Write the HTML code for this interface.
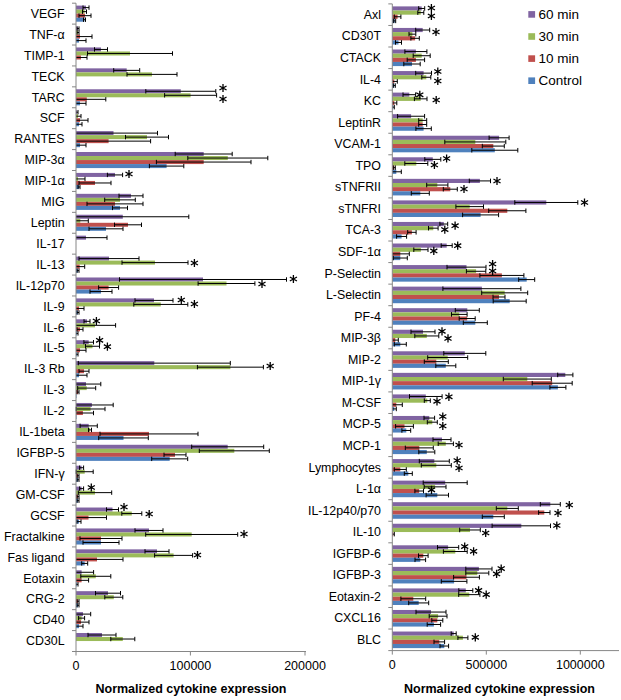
<!DOCTYPE html>
<html><head><meta charset="utf-8"><style>
html,body{margin:0;padding:0;background:#fff;}
body{width:621px;height:700px;overflow:hidden;}
svg{display:block;}
text{font-family:"Liberation Sans",sans-serif;fill:#000;}
.lab{font-size:12.4px;}
.tick{font-size:12.5px;}
.leg{font-size:13.5px;}
.title{font-size:12.5px;font-weight:bold;}
.star{stroke:#000;stroke-width:1.3;fill:none;}
.ax{stroke:#868686;stroke-width:1;fill:none;}
.eb path{stroke:#000;stroke-width:1;fill:none;}
</style></head><body>
<svg width="621" height="700" viewBox="0 0 621 700">
<rect width="621" height="700" fill="#fff"/>
<rect x="76.00" y="5.61" width="10.00" height="4.02" fill="#8064A2"/><rect x="76.00" y="9.63" width="8.50" height="4.02" fill="#9BBB59"/><rect x="76.00" y="13.66" width="9.00" height="4.02" fill="#C0504D"/><rect x="76.00" y="17.68" width="8.50" height="4.02" fill="#4F81BD"/><rect x="76.00" y="26.53" width="2.00" height="4.02" fill="#8064A2"/><rect x="76.00" y="30.55" width="2.00" height="4.02" fill="#9BBB59"/><rect x="76.00" y="34.57" width="4.00" height="4.02" fill="#C0504D"/><rect x="76.00" y="38.59" width="3.00" height="4.02" fill="#4F81BD"/><rect x="76.00" y="47.44" width="25.00" height="4.02" fill="#8064A2"/><rect x="76.00" y="51.46" width="54.00" height="4.02" fill="#9BBB59"/><rect x="76.00" y="55.48" width="5.00" height="4.02" fill="#C0504D"/><rect x="76.00" y="68.35" width="50.70" height="4.02" fill="#8064A2"/><rect x="76.00" y="72.37" width="76.00" height="4.02" fill="#9BBB59"/><rect x="76.00" y="89.26" width="104.80" height="4.02" fill="#8064A2"/><rect x="76.00" y="93.29" width="114.60" height="4.02" fill="#9BBB59"/><rect x="76.00" y="97.31" width="10.80" height="4.02" fill="#C0504D"/><rect x="76.00" y="101.33" width="4.00" height="4.02" fill="#4F81BD"/><rect x="76.00" y="110.18" width="1.00" height="4.02" fill="#8064A2"/><rect x="76.00" y="114.20" width="2.00" height="4.02" fill="#9BBB59"/><rect x="76.00" y="118.22" width="4.00" height="4.02" fill="#C0504D"/><rect x="76.00" y="122.24" width="3.00" height="4.02" fill="#4F81BD"/><rect x="76.00" y="131.09" width="37.50" height="4.02" fill="#8064A2"/><rect x="76.00" y="135.11" width="71.00" height="4.02" fill="#9BBB59"/><rect x="76.00" y="139.13" width="32.60" height="4.02" fill="#C0504D"/><rect x="76.00" y="143.16" width="4.00" height="4.02" fill="#4F81BD"/><rect x="76.00" y="152.00" width="127.70" height="4.02" fill="#8064A2"/><rect x="76.00" y="156.03" width="151.80" height="4.02" fill="#9BBB59"/><rect x="76.00" y="160.05" width="127.70" height="4.02" fill="#C0504D"/><rect x="76.00" y="164.07" width="90.60" height="4.02" fill="#4F81BD"/><rect x="76.00" y="172.92" width="39.00" height="4.02" fill="#8064A2"/><rect x="76.00" y="176.94" width="2.00" height="4.02" fill="#9BBB59"/><rect x="76.00" y="180.96" width="19.00" height="4.02" fill="#C0504D"/><rect x="76.00" y="184.98" width="3.00" height="4.02" fill="#4F81BD"/><rect x="76.00" y="193.83" width="55.00" height="4.02" fill="#8064A2"/><rect x="76.00" y="197.85" width="44.00" height="4.02" fill="#9BBB59"/><rect x="76.00" y="201.87" width="39.00" height="4.02" fill="#C0504D"/><rect x="76.00" y="205.89" width="44.00" height="4.02" fill="#4F81BD"/><rect x="76.00" y="214.74" width="46.80" height="4.02" fill="#8064A2"/><rect x="76.00" y="218.76" width="4.30" height="4.02" fill="#9BBB59"/><rect x="76.00" y="222.79" width="52.00" height="4.02" fill="#C0504D"/><rect x="76.00" y="226.81" width="30.00" height="4.02" fill="#4F81BD"/><rect x="76.00" y="235.65" width="10.00" height="4.02" fill="#8064A2"/><rect x="76.00" y="256.57" width="33.00" height="4.02" fill="#8064A2"/><rect x="76.00" y="260.59" width="79.00" height="4.02" fill="#9BBB59"/><rect x="76.00" y="264.61" width="3.70" height="4.02" fill="#C0504D"/><rect x="76.00" y="268.63" width="2.00" height="4.02" fill="#4F81BD"/><rect x="76.00" y="277.48" width="127.00" height="4.02" fill="#8064A2"/><rect x="76.00" y="281.50" width="150.50" height="4.02" fill="#9BBB59"/><rect x="76.00" y="285.52" width="32.60" height="4.02" fill="#C0504D"/><rect x="76.00" y="289.55" width="25.00" height="4.02" fill="#4F81BD"/><rect x="76.00" y="298.39" width="78.00" height="4.02" fill="#8064A2"/><rect x="76.00" y="302.42" width="84.80" height="4.02" fill="#9BBB59"/><rect x="76.00" y="306.44" width="3.00" height="4.02" fill="#C0504D"/><rect x="76.00" y="310.46" width="2.00" height="4.02" fill="#4F81BD"/><rect x="76.00" y="319.31" width="11.00" height="4.02" fill="#8064A2"/><rect x="76.00" y="323.33" width="19.00" height="4.02" fill="#9BBB59"/><rect x="76.00" y="327.35" width="4.00" height="4.02" fill="#C0504D"/><rect x="76.00" y="331.37" width="1.00" height="4.02" fill="#4F81BD"/><rect x="76.00" y="340.22" width="12.70" height="4.02" fill="#8064A2"/><rect x="76.00" y="344.24" width="16.50" height="4.02" fill="#9BBB59"/><rect x="76.00" y="348.26" width="4.00" height="4.02" fill="#C0504D"/><rect x="76.00" y="352.28" width="1.00" height="4.02" fill="#4F81BD"/><rect x="76.00" y="361.13" width="78.30" height="4.02" fill="#8064A2"/><rect x="76.00" y="365.15" width="154.40" height="4.02" fill="#9BBB59"/><rect x="76.00" y="369.18" width="8.00" height="4.02" fill="#C0504D"/><rect x="76.00" y="373.20" width="3.00" height="4.02" fill="#4F81BD"/><rect x="76.00" y="382.05" width="10.00" height="4.02" fill="#8064A2"/><rect x="76.00" y="386.07" width="10.70" height="4.02" fill="#9BBB59"/><rect x="76.00" y="390.09" width="2.00" height="4.02" fill="#C0504D"/><rect x="76.00" y="394.11" width="0.50" height="4.02" fill="#4F81BD"/><rect x="76.00" y="402.96" width="15.90" height="4.02" fill="#8064A2"/><rect x="76.00" y="406.98" width="14.60" height="4.02" fill="#9BBB59"/><rect x="76.00" y="411.00" width="6.90" height="4.02" fill="#C0504D"/><rect x="76.00" y="415.02" width="0.50" height="4.02" fill="#4F81BD"/><rect x="76.00" y="423.87" width="12.70" height="4.02" fill="#8064A2"/><rect x="76.00" y="427.89" width="14.00" height="4.02" fill="#9BBB59"/><rect x="76.00" y="431.91" width="73.00" height="4.02" fill="#C0504D"/><rect x="76.00" y="435.94" width="47.50" height="4.02" fill="#4F81BD"/><rect x="76.00" y="444.78" width="151.70" height="4.02" fill="#8064A2"/><rect x="76.00" y="448.81" width="158.30" height="4.02" fill="#9BBB59"/><rect x="76.00" y="452.83" width="99.00" height="4.02" fill="#C0504D"/><rect x="76.00" y="456.85" width="93.70" height="4.02" fill="#4F81BD"/><rect x="76.00" y="465.70" width="5.60" height="4.02" fill="#8064A2"/><rect x="76.00" y="469.72" width="8.70" height="4.02" fill="#9BBB59"/><rect x="76.00" y="473.74" width="2.00" height="4.02" fill="#C0504D"/><rect x="76.00" y="477.76" width="2.00" height="4.02" fill="#4F81BD"/><rect x="76.00" y="486.61" width="5.60" height="4.02" fill="#8064A2"/><rect x="76.00" y="490.63" width="19.00" height="4.02" fill="#9BBB59"/><rect x="76.00" y="494.65" width="2.00" height="4.02" fill="#C0504D"/><rect x="76.00" y="498.67" width="2.00" height="4.02" fill="#4F81BD"/><rect x="76.00" y="507.52" width="36.50" height="4.02" fill="#8064A2"/><rect x="76.00" y="511.54" width="55.80" height="4.02" fill="#9BBB59"/><rect x="76.00" y="515.57" width="12.50" height="4.02" fill="#C0504D"/><rect x="76.00" y="519.59" width="3.00" height="4.02" fill="#4F81BD"/><rect x="76.00" y="528.44" width="73.00" height="4.02" fill="#8064A2"/><rect x="76.00" y="532.46" width="115.70" height="4.02" fill="#9BBB59"/><rect x="76.00" y="536.48" width="25.00" height="4.02" fill="#C0504D"/><rect x="76.00" y="540.50" width="25.00" height="4.02" fill="#4F81BD"/><rect x="76.00" y="549.35" width="81.00" height="4.02" fill="#8064A2"/><rect x="76.00" y="553.37" width="97.60" height="4.02" fill="#9BBB59"/><rect x="76.00" y="557.39" width="21.00" height="4.02" fill="#C0504D"/><rect x="76.00" y="561.41" width="8.70" height="4.02" fill="#4F81BD"/><rect x="76.00" y="570.26" width="5.60" height="4.02" fill="#8064A2"/><rect x="76.00" y="574.28" width="19.80" height="4.02" fill="#9BBB59"/><rect x="76.00" y="578.30" width="5.60" height="4.02" fill="#C0504D"/><rect x="76.00" y="582.33" width="1.00" height="4.02" fill="#4F81BD"/><rect x="76.00" y="591.17" width="32.00" height="4.02" fill="#8064A2"/><rect x="76.00" y="595.20" width="37.80" height="4.02" fill="#9BBB59"/><rect x="76.00" y="599.22" width="2.00" height="4.02" fill="#C0504D"/><rect x="76.00" y="603.24" width="2.00" height="4.02" fill="#4F81BD"/><rect x="76.00" y="612.09" width="7.00" height="4.02" fill="#8064A2"/><rect x="76.00" y="616.11" width="5.60" height="4.02" fill="#9BBB59"/><rect x="76.00" y="620.13" width="5.00" height="4.02" fill="#C0504D"/><rect x="76.00" y="624.15" width="3.00" height="4.02" fill="#4F81BD"/><rect x="76.00" y="633.00" width="26.00" height="4.02" fill="#8064A2"/><rect x="76.00" y="637.02" width="46.80" height="4.02" fill="#9BBB59"/><rect x="392.30" y="6.39" width="29.40" height="4.15" fill="#8064A2"/><rect x="392.30" y="10.53" width="28.50" height="4.15" fill="#9BBB59"/><rect x="392.30" y="14.68" width="5.30" height="4.15" fill="#C0504D"/><rect x="392.30" y="18.82" width="2.40" height="4.15" fill="#4F81BD"/><rect x="392.30" y="27.94" width="30.40" height="4.15" fill="#8064A2"/><rect x="392.30" y="32.09" width="20.10" height="4.15" fill="#9BBB59"/><rect x="392.30" y="36.23" width="22.80" height="4.15" fill="#C0504D"/><rect x="392.30" y="40.38" width="6.20" height="4.15" fill="#4F81BD"/><rect x="392.30" y="49.50" width="23.60" height="4.15" fill="#8064A2"/><rect x="392.30" y="53.65" width="29.40" height="4.15" fill="#9BBB59"/><rect x="392.30" y="57.79" width="23.60" height="4.15" fill="#C0504D"/><rect x="392.30" y="61.94" width="19.70" height="4.15" fill="#4F81BD"/><rect x="392.30" y="71.06" width="31.30" height="4.15" fill="#8064A2"/><rect x="392.30" y="75.20" width="34.00" height="4.15" fill="#9BBB59"/><rect x="392.30" y="79.35" width="2.00" height="4.15" fill="#C0504D"/><rect x="392.30" y="83.49" width="2.00" height="4.15" fill="#4F81BD"/><rect x="392.30" y="92.61" width="17.00" height="4.15" fill="#8064A2"/><rect x="392.30" y="96.76" width="28.40" height="4.15" fill="#9BBB59"/><rect x="392.30" y="100.91" width="2.00" height="4.15" fill="#C0504D"/><rect x="392.30" y="105.05" width="1.00" height="4.15" fill="#4F81BD"/><rect x="392.30" y="114.17" width="18.80" height="4.15" fill="#8064A2"/><rect x="392.30" y="118.32" width="30.40" height="4.15" fill="#9BBB59"/><rect x="392.30" y="122.46" width="30.40" height="4.15" fill="#C0504D"/><rect x="392.30" y="126.61" width="31.30" height="4.15" fill="#4F81BD"/><rect x="392.30" y="135.73" width="106.80" height="4.15" fill="#8064A2"/><rect x="392.30" y="139.87" width="83.00" height="4.15" fill="#9BBB59"/><rect x="392.30" y="144.02" width="101.00" height="4.15" fill="#C0504D"/><rect x="392.30" y="148.16" width="102.50" height="4.15" fill="#4F81BD"/><rect x="392.30" y="157.28" width="40.50" height="4.15" fill="#8064A2"/><rect x="392.30" y="161.43" width="24.00" height="4.15" fill="#9BBB59"/><rect x="392.30" y="165.58" width="2.00" height="4.15" fill="#C0504D"/><rect x="392.30" y="169.72" width="4.00" height="4.15" fill="#4F81BD"/><rect x="392.30" y="178.84" width="87.60" height="4.15" fill="#8064A2"/><rect x="392.30" y="182.99" width="45.00" height="4.15" fill="#9BBB59"/><rect x="392.30" y="187.13" width="58.00" height="4.15" fill="#C0504D"/><rect x="392.30" y="191.28" width="28.00" height="4.15" fill="#4F81BD"/><rect x="392.30" y="200.40" width="154.00" height="4.15" fill="#8064A2"/><rect x="392.30" y="204.54" width="77.40" height="4.15" fill="#9BBB59"/><rect x="392.30" y="208.69" width="115.00" height="4.15" fill="#C0504D"/><rect x="392.30" y="212.83" width="88.30" height="4.15" fill="#4F81BD"/><rect x="392.30" y="221.95" width="51.50" height="4.15" fill="#8064A2"/><rect x="392.30" y="226.10" width="41.00" height="4.15" fill="#9BBB59"/><rect x="392.30" y="230.25" width="19.60" height="4.15" fill="#C0504D"/><rect x="392.30" y="234.39" width="9.30" height="4.15" fill="#4F81BD"/><rect x="392.30" y="243.51" width="54.40" height="4.15" fill="#8064A2"/><rect x="392.30" y="247.66" width="28.60" height="4.15" fill="#9BBB59"/><rect x="392.30" y="251.80" width="8.00" height="4.15" fill="#C0504D"/><rect x="392.30" y="255.95" width="8.00" height="4.15" fill="#4F81BD"/><rect x="392.30" y="265.07" width="74.20" height="4.15" fill="#8064A2"/><rect x="392.30" y="269.21" width="83.80" height="4.15" fill="#9BBB59"/><rect x="392.30" y="273.36" width="109.60" height="4.15" fill="#C0504D"/><rect x="392.30" y="277.50" width="134.40" height="4.15" fill="#4F81BD"/><rect x="392.30" y="286.62" width="89.60" height="4.15" fill="#8064A2"/><rect x="392.30" y="290.77" width="112.40" height="4.15" fill="#9BBB59"/><rect x="392.30" y="294.91" width="106.70" height="4.15" fill="#C0504D"/><rect x="392.30" y="299.06" width="117.40" height="4.15" fill="#4F81BD"/><rect x="392.30" y="308.18" width="75.00" height="4.15" fill="#8064A2"/><rect x="392.30" y="312.33" width="67.00" height="4.15" fill="#9BBB59"/><rect x="392.30" y="316.47" width="74.90" height="4.15" fill="#C0504D"/><rect x="392.30" y="320.62" width="83.00" height="4.15" fill="#4F81BD"/><rect x="392.30" y="329.74" width="30.70" height="4.15" fill="#8064A2"/><rect x="392.30" y="333.88" width="34.50" height="4.15" fill="#9BBB59"/><rect x="392.30" y="338.03" width="3.00" height="4.15" fill="#C0504D"/><rect x="392.30" y="342.17" width="8.00" height="4.15" fill="#4F81BD"/><rect x="392.30" y="351.29" width="72.50" height="4.15" fill="#8064A2"/><rect x="392.30" y="355.44" width="55.40" height="4.15" fill="#9BBB59"/><rect x="392.30" y="359.59" width="44.00" height="4.15" fill="#C0504D"/><rect x="392.30" y="363.73" width="53.50" height="4.15" fill="#4F81BD"/><rect x="392.30" y="372.85" width="173.00" height="4.15" fill="#8064A2"/><rect x="392.30" y="377.00" width="135.00" height="4.15" fill="#9BBB59"/><rect x="392.30" y="381.14" width="159.90" height="4.15" fill="#C0504D"/><rect x="392.30" y="385.29" width="165.60" height="4.15" fill="#4F81BD"/><rect x="392.30" y="394.41" width="33.50" height="4.15" fill="#8064A2"/><rect x="392.30" y="398.55" width="35.00" height="4.15" fill="#9BBB59"/><rect x="392.30" y="402.70" width="4.00" height="4.15" fill="#C0504D"/><rect x="392.30" y="406.84" width="2.00" height="4.15" fill="#4F81BD"/><rect x="392.30" y="415.96" width="37.00" height="4.15" fill="#8064A2"/><rect x="392.30" y="420.11" width="40.00" height="4.15" fill="#9BBB59"/><rect x="392.30" y="424.25" width="12.20" height="4.15" fill="#C0504D"/><rect x="392.30" y="428.40" width="14.00" height="4.15" fill="#4F81BD"/><rect x="392.30" y="437.52" width="49.70" height="4.15" fill="#8064A2"/><rect x="392.30" y="441.67" width="53.50" height="4.15" fill="#9BBB59"/><rect x="392.30" y="445.81" width="27.00" height="4.15" fill="#C0504D"/><rect x="392.30" y="449.96" width="34.50" height="4.15" fill="#4F81BD"/><rect x="392.30" y="459.08" width="42.00" height="4.15" fill="#8064A2"/><rect x="392.30" y="463.22" width="44.00" height="4.15" fill="#9BBB59"/><rect x="392.30" y="467.37" width="8.00" height="4.15" fill="#C0504D"/><rect x="392.30" y="471.51" width="16.00" height="4.15" fill="#4F81BD"/><rect x="392.30" y="480.63" width="52.90" height="4.15" fill="#8064A2"/><rect x="392.30" y="484.78" width="42.80" height="4.15" fill="#9BBB59"/><rect x="392.30" y="488.93" width="26.90" height="4.15" fill="#C0504D"/><rect x="392.30" y="493.07" width="45.00" height="4.15" fill="#4F81BD"/><rect x="392.30" y="502.19" width="158.00" height="4.15" fill="#8064A2"/><rect x="392.30" y="506.34" width="115.00" height="4.15" fill="#9BBB59"/><rect x="392.30" y="510.48" width="152.00" height="4.15" fill="#C0504D"/><rect x="392.30" y="514.63" width="101.00" height="4.15" fill="#4F81BD"/><rect x="392.30" y="523.75" width="129.00" height="4.15" fill="#8064A2"/><rect x="392.30" y="527.89" width="77.70" height="4.15" fill="#9BBB59"/><rect x="392.30" y="532.04" width="1.00" height="4.15" fill="#C0504D"/><rect x="392.30" y="545.30" width="55.80" height="4.15" fill="#8064A2"/><rect x="392.30" y="549.45" width="63.00" height="4.15" fill="#9BBB59"/><rect x="392.30" y="553.60" width="31.00" height="4.15" fill="#C0504D"/><rect x="392.30" y="557.74" width="28.00" height="4.15" fill="#4F81BD"/><rect x="392.30" y="566.86" width="86.60" height="4.15" fill="#8064A2"/><rect x="392.30" y="571.01" width="85.00" height="4.15" fill="#9BBB59"/><rect x="392.30" y="575.15" width="74.20" height="4.15" fill="#C0504D"/><rect x="392.30" y="579.30" width="61.80" height="4.15" fill="#4F81BD"/><rect x="392.30" y="588.42" width="73.50" height="4.15" fill="#8064A2"/><rect x="392.30" y="592.56" width="77.00" height="4.15" fill="#9BBB59"/><rect x="392.30" y="596.71" width="21.00" height="4.15" fill="#C0504D"/><rect x="392.30" y="600.85" width="26.40" height="4.15" fill="#4F81BD"/><rect x="392.30" y="609.97" width="38.70" height="4.15" fill="#8064A2"/><rect x="392.30" y="614.12" width="45.80" height="4.15" fill="#9BBB59"/><rect x="392.30" y="618.26" width="45.00" height="4.15" fill="#C0504D"/><rect x="392.30" y="622.41" width="41.60" height="4.15" fill="#4F81BD"/><rect x="392.30" y="631.53" width="61.40" height="4.15" fill="#8064A2"/><rect x="392.30" y="635.68" width="70.60" height="4.15" fill="#9BBB59"/><rect x="392.30" y="639.82" width="47.00" height="4.15" fill="#C0504D"/><rect x="392.30" y="643.97" width="52.00" height="4.15" fill="#4F81BD"/>
<g class="eb"><path d="M83.00 7.62H89.00M89.00 5.41V9.83M83.00 5.41V9.83"/><path d="M82.50 11.65H86.50M86.50 9.43V13.86M82.50 9.43V13.86"/><path d="M79.00 15.67H91.00M91.00 13.46V17.88M79.00 13.46V17.88"/><path d="M83.50 19.69H85.50M85.50 17.48V21.90M83.50 17.48V21.90"/><path d="M77.00 28.54H79.00M79.00 26.33V30.75M77.00 26.33V30.75"/><path d="M77.00 32.56H79.00M79.00 30.35V34.77M77.00 30.35V34.77"/><path d="M76.00 36.58H92.00M92.00 34.37V38.79"/><path d="M76.00 40.60H86.00M86.00 38.39V42.81"/><path d="M94.50 49.45H107.50M107.50 47.24V51.66M94.50 47.24V51.66"/><path d="M87.50 53.47H172.50M172.50 51.26V55.68M87.50 51.26V55.68"/><path d="M76.00 57.49H87.00M87.00 55.28V59.70"/><path d="M113.70 70.36H139.70M139.70 68.15V72.57M113.70 68.15V72.57"/><path d="M127.00 74.38H177.00M177.00 72.17V76.60M127.00 72.17V76.60"/><path d="M145.80 91.28H215.80M215.80 89.06V93.49M145.80 89.06V93.49"/><path d="M164.60 95.30H216.60M216.60 93.09V97.51M164.60 93.09V97.51"/><path d="M76.00 99.32H105.80M105.80 97.11V101.53"/><path d="M76.00 103.34H86.00M86.00 101.13V105.55"/><path d="M76.00 112.19H78.00M78.00 109.98V114.40"/><path d="M76.00 116.21H81.00M81.00 114.00V118.42"/><path d="M76.00 120.23H88.00M88.00 118.02V122.44"/><path d="M76.00 124.25H82.00M82.00 122.04V126.46"/><path d="M76.00 133.10H157.50M157.50 130.89V135.31"/><path d="M125.50 137.12H168.50M168.50 134.91V139.33M125.50 134.91V139.33"/><path d="M76.00 141.14H150.60M150.60 138.93V143.36"/><path d="M76.00 145.17H86.00M86.00 142.96V147.38"/><path d="M175.20 154.01H232.20M232.20 151.80V156.23M175.20 151.80V156.23"/><path d="M187.80 158.04H267.80M267.80 155.83V160.25M187.80 155.83V160.25"/><path d="M156.40 162.06H251.00M251.00 159.85V164.27M156.40 159.85V164.27"/><path d="M149.40 166.08H183.80M183.80 163.87V168.29M149.40 163.87V168.29"/><path d="M107.40 174.93H122.60M122.60 172.72V177.14M107.40 172.72V177.14"/><path d="M76.00 178.95H85.00M85.00 176.74V181.16"/><path d="M79.00 182.97H111.00M111.00 180.76V185.18M79.00 180.76V185.18"/><path d="M78.00 186.99H80.00M80.00 184.78V189.20M78.00 184.78V189.20"/><path d="M119.00 195.84H143.00M143.00 193.63V198.05M119.00 193.63V198.05"/><path d="M104.70 199.86H135.30M135.30 197.65V202.07M104.70 197.65V202.07"/><path d="M87.00 203.88H143.00M143.00 201.67V206.09M87.00 201.67V206.09"/><path d="M112.50 207.91H127.50M127.50 205.69V210.12M112.50 205.69V210.12"/><path d="M76.00 216.75H188.80M188.80 214.54V218.96"/><path d="M76.00 220.77H88.30M88.30 218.56V222.99"/><path d="M114.50 224.80H141.50M141.50 222.59V227.01M114.50 222.59V227.01"/><path d="M89.00 228.82H123.00M123.00 226.61V231.03M89.00 226.61V231.03"/><path d="M76.00 237.67H107.00M107.00 235.45V239.88"/><path d="M79.00 258.58H139.00M139.00 256.37V260.79M79.00 256.37V260.79"/><path d="M122.00 262.60H188.00M188.00 260.39V264.81M122.00 260.39V264.81"/><path d="M76.00 266.62H84.70M84.70 264.41V268.83"/><path d="M77.00 270.64H79.00M79.00 268.43V272.85M77.00 268.43V272.85"/><path d="M119.50 279.49H286.50M286.50 277.28V281.70M119.50 277.28V281.70"/><path d="M198.10 283.51H254.90M254.90 281.30V285.72M198.10 281.30V285.72"/><path d="M98.60 287.54H118.60M118.60 285.32V289.75M98.60 285.32V289.75"/><path d="M90.00 291.56H112.00M112.00 289.35V293.77M90.00 289.35V293.77"/><path d="M135.00 300.40H173.00M173.00 298.19V302.62M135.00 298.19V302.62"/><path d="M133.80 304.43H187.80M187.80 302.22V306.64M133.80 302.22V306.64"/><path d="M76.00 308.45H84.00M84.00 306.24V310.66"/><path d="M77.00 312.47H79.00M79.00 310.26V314.68M77.00 310.26V314.68"/><path d="M84.00 321.32H90.00M90.00 319.11V323.53M84.00 319.11V323.53"/><path d="M76.00 325.34H115.60M115.60 323.13V327.55"/><path d="M77.00 329.36H83.00M83.00 327.15V331.57M77.00 327.15V331.57"/><path d="M76.00 333.38H78.00M78.00 331.17V335.59"/><path d="M83.90 342.23H93.50M93.50 340.02V344.44M83.90 340.02V344.44"/><path d="M85.50 346.25H99.50M99.50 344.04V348.46M85.50 344.04V348.46"/><path d="M76.00 350.27H86.00M86.00 348.06V352.48"/><path d="M76.00 354.30H78.00M78.00 352.08V356.51"/><path d="M78.30 363.14H230.30M230.30 360.93V365.35M78.30 360.93V365.35"/><path d="M197.40 367.16H263.40M263.40 364.95V369.38M197.40 364.95V369.38"/><path d="M79.00 371.19H89.00M89.00 368.98V373.40M79.00 368.98V373.40"/><path d="M76.00 375.21H87.00M87.00 373.00V377.42"/><path d="M76.00 384.06H100.80M100.80 381.85V386.27"/><path d="M77.70 388.08H95.70M95.70 385.87V390.29M77.70 385.87V390.29"/><path d="M77.00 392.10H79.00M79.00 389.89V394.31M77.00 389.89V394.31"/><path d="M76.00 404.97H113.20M113.20 402.76V407.18"/><path d="M76.20 408.99H105.00M105.00 406.78V411.20M76.20 406.78V411.20"/><path d="M76.00 413.01H93.50M93.50 410.80V415.22"/><path d="M80.10 425.88H97.30M97.30 423.67V428.09M80.10 423.67V428.09"/><path d="M88.50 429.90H91.50M91.50 427.69V432.11M88.50 427.69V432.11"/><path d="M100.00 433.93H198.00M198.00 431.71V436.14M100.00 431.71V436.14"/><path d="M98.70 437.95H148.30M148.30 435.74V440.16M98.70 435.74V440.16"/><path d="M191.70 446.79H263.70M263.70 444.58V449.01M191.70 444.58V449.01"/><path d="M199.30 450.82H269.30M269.30 448.61V453.03M199.30 448.61V453.03"/><path d="M164.00 454.84H186.00M186.00 452.63V457.05M164.00 452.63V457.05"/><path d="M151.70 458.86H187.70M187.70 456.65V461.07M151.70 456.65V461.07"/><path d="M79.60 467.71H83.60M83.60 465.50V469.92M79.60 465.50V469.92"/><path d="M76.20 471.73H93.20M93.20 469.52V473.94M76.20 469.52V473.94"/><path d="M77.00 475.75H79.00M79.00 473.54V477.96M77.00 473.54V477.96"/><path d="M77.00 479.77H79.00M79.00 477.56V481.98M77.00 477.56V481.98"/><path d="M79.60 488.62H83.60M83.60 486.41V490.83M79.60 486.41V490.83"/><path d="M78.30 492.64H111.70M111.70 490.43V494.85M78.30 490.43V494.85"/><path d="M77.00 496.66H79.00M79.00 494.45V498.87M77.00 494.45V498.87"/><path d="M77.00 500.69H79.00M79.00 498.47V502.90M77.00 498.47V502.90"/><path d="M106.50 509.53H118.50M118.50 507.32V511.74M106.50 507.32V511.74"/><path d="M121.80 513.56H141.80M141.80 511.34V515.77M121.80 511.34V515.77"/><path d="M76.00 517.58H106.50M106.50 515.37V519.79"/><path d="M77.00 521.60H81.00M81.00 519.39V523.81M77.00 519.39V523.81"/><path d="M135.00 530.45H163.00M163.00 528.24V532.66M135.00 528.24V532.66"/><path d="M145.70 534.47H237.70M237.70 532.26V536.68M145.70 532.26V536.68"/><path d="M80.00 538.49H122.00M122.00 536.28V540.70M80.00 536.28V540.70"/><path d="M83.00 542.51H119.00M119.00 540.30V544.72M83.00 540.30V544.72"/><path d="M145.00 551.36H169.00M169.00 549.15V553.57M145.00 549.15V553.57"/><path d="M154.60 555.38H192.60M192.60 553.17V557.59M154.60 553.17V557.59"/><path d="M76.00 559.40H123.00M123.00 557.19V561.61"/><path d="M81.70 563.42H87.70M87.70 561.21V565.64M81.70 561.21V565.64"/><path d="M76.00 572.27H93.60M93.60 570.06V574.48"/><path d="M80.80 576.29H110.80M110.80 574.08V578.50M80.80 574.08V578.50"/><path d="M76.00 580.32H88.60M88.60 578.10V582.53"/><path d="M76.00 584.34H78.00M78.00 582.13V586.55"/><path d="M95.50 593.19H120.50M120.50 590.97V595.40M95.50 590.97V595.40"/><path d="M104.80 597.21H122.80M122.80 595.00V599.42M104.80 595.00V599.42"/><path d="M77.00 601.23H79.00M79.00 599.02V603.44M77.00 599.02V603.44"/><path d="M77.00 605.25H79.00M79.00 603.04V607.46M77.00 603.04V607.46"/><path d="M76.00 614.10H90.70M90.70 611.89V616.31"/><path d="M78.60 618.12H84.60M84.60 615.91V620.33M78.60 615.91V620.33"/><path d="M76.00 622.14H89.00M89.00 619.93V624.35"/><path d="M76.00 626.16H83.00M83.00 623.95V628.37"/><path d="M88.00 635.01H116.00M116.00 632.80V637.22M88.00 632.80V637.22"/><path d="M110.80 639.03H134.80M134.80 636.82V641.24M110.80 636.82V641.24"/><path d="M418.70 8.46H424.70M424.70 6.19V10.73M418.70 6.19V10.73"/><path d="M417.80 12.61H423.80M423.80 10.33V14.88M417.80 10.33V14.88"/><path d="M394.30 16.75H400.90M400.90 14.48V19.02M394.30 14.48V19.02"/><path d="M393.70 20.90H395.70M395.70 18.62V23.17M393.70 18.62V23.17"/><path d="M415.70 30.02H429.70M429.70 27.74V32.29M415.70 27.74V32.29"/><path d="M409.00 34.16H415.80M415.80 31.89V36.44M409.00 31.89V36.44"/><path d="M410.90 38.31H419.30M419.30 36.03V40.58M410.90 36.03V40.58"/><path d="M395.50 42.45H401.50M401.50 40.18V44.73M395.50 40.18V44.73"/><path d="M404.90 51.57H426.90M426.90 49.30V53.85M404.90 49.30V53.85"/><path d="M413.20 55.72H430.20M430.20 53.45V57.99M413.20 53.45V57.99"/><path d="M407.20 59.86H424.60M424.60 57.59V62.14M407.20 57.59V62.14"/><path d="M403.80 64.01H420.20M420.20 61.74V66.28M403.80 61.74V66.28"/><path d="M415.70 73.13H431.50M431.50 70.86V75.40M415.70 70.86V75.40"/><path d="M421.80 77.28H430.80M430.80 75.00V79.55M421.80 75.00V79.55"/><path d="M392.30 81.42H397.30M397.30 79.15V83.69"/><path d="M393.30 85.57H395.30M395.30 83.29V87.84M393.30 83.29V87.84"/><path d="M403.00 94.69H415.60M415.60 92.41V96.96M403.00 92.41V96.96"/><path d="M414.40 98.83H427.00M427.00 96.56V101.11M414.40 96.56V101.11"/><path d="M392.30 102.98H396.80M396.80 100.71V105.25"/><path d="M392.30 107.12H394.30M394.30 104.85V109.40"/><path d="M397.60 116.24H424.60M424.60 113.97V118.52M397.60 113.97V118.52"/><path d="M418.70 120.39H426.70M426.70 118.12V122.66M418.70 118.12V122.66"/><path d="M418.70 124.53H426.70M426.70 122.26V126.81M418.70 122.26V126.81"/><path d="M415.90 128.68H431.30M431.30 126.41V130.95M415.90 126.41V130.95"/><path d="M489.10 137.80H509.10M509.10 135.53V140.07M489.10 135.53V140.07"/><path d="M444.80 141.95H505.80M505.80 139.67V144.22M444.80 139.67V144.22"/><path d="M482.30 146.09H504.30M504.30 143.82V148.36M482.30 143.82V148.36"/><path d="M471.80 150.24H517.80M517.80 147.96V152.51M471.80 147.96V152.51"/><path d="M424.80 159.36H440.80M440.80 157.08V161.63M424.80 157.08V161.63"/><path d="M404.80 163.50H427.80M427.80 161.23V165.77M404.80 161.23V165.77"/><path d="M393.30 167.65H395.30M395.30 165.38V169.92M393.30 165.38V169.92"/><path d="M392.30 171.79H401.30M401.30 169.52V174.07"/><path d="M469.30 180.91H490.50M490.50 178.64V183.19M469.30 178.64V183.19"/><path d="M426.70 185.06H447.90M447.90 182.79V187.33M426.70 182.79V187.33"/><path d="M443.30 189.20H457.30M457.30 186.93V191.48M443.30 186.93V191.48"/><path d="M411.30 193.35H429.30M429.30 191.08V195.62M411.30 191.08V195.62"/><path d="M514.80 202.47H577.80M577.80 200.20V204.74M514.80 200.20V204.74"/><path d="M455.90 206.62H483.50M483.50 204.34V208.89M455.90 204.34V208.89"/><path d="M488.70 210.76H525.90M525.90 208.49V213.03M488.70 208.49V213.03"/><path d="M462.60 214.91H498.60M498.60 212.63V217.18M462.60 212.63V217.18"/><path d="M439.90 224.03H447.70M447.70 221.75V226.30M439.90 221.75V226.30"/><path d="M428.50 228.17H438.10M438.10 225.90V230.44M428.50 225.90V230.44"/><path d="M407.70 232.32H416.10M416.10 230.05V234.59M407.70 230.05V234.59"/><path d="M396.60 236.46H406.60M406.60 234.19V238.74M396.60 234.19V238.74"/><path d="M441.20 245.58H452.20M452.20 243.31V247.86M441.20 243.31V247.86"/><path d="M413.80 249.73H428.00M428.00 247.46V252.00M413.80 247.46V252.00"/><path d="M392.30 253.87H409.30M409.30 251.60V256.15"/><path d="M393.30 258.02H407.30M407.30 255.75V260.29M393.30 255.75V260.29"/><path d="M447.00 267.14H486.00M486.00 264.87V269.41M447.00 264.87V269.41"/><path d="M466.40 271.29H485.80M485.80 269.01V273.56M466.40 269.01V273.56"/><path d="M479.90 275.43H523.90M523.90 273.16V277.70M479.90 273.16V277.70"/><path d="M518.70 279.58H534.70M534.70 277.30V281.85M518.70 277.30V281.85"/><path d="M442.90 288.70H520.90M520.90 286.42V290.97M442.90 286.42V290.97"/><path d="M481.70 292.84H527.70M527.70 290.57V295.11M481.70 290.57V295.11"/><path d="M493.00 296.99H505.00M505.00 294.71V299.26M493.00 294.71V299.26"/><path d="M493.20 301.13H526.20M526.20 298.86V303.41M493.20 298.86V303.41"/><path d="M455.30 310.25H479.30M479.30 307.98V312.53M455.30 307.98V312.53"/><path d="M451.50 314.40H467.10M467.10 312.13V316.67M451.50 312.13V316.67"/><path d="M459.20 318.54H475.20M475.20 316.27V320.82M459.20 316.27V320.82"/><path d="M463.30 322.69H487.30M487.30 320.42V324.96M463.30 320.42V324.96"/><path d="M411.00 331.81H435.00M435.00 329.54V334.08M411.00 329.54V334.08"/><path d="M414.80 335.96H438.80M438.80 333.68V338.23M414.80 333.68V338.23"/><path d="M392.30 340.10H398.30M398.30 337.83V342.37"/><path d="M394.30 344.25H406.30M406.30 341.97V346.52M394.30 341.97V346.52"/><path d="M443.80 353.37H485.80M485.80 351.09V355.64M443.80 351.09V355.64"/><path d="M427.70 357.51H467.70M467.70 355.24V359.78M427.70 355.24V359.78"/><path d="M424.30 361.66H448.30M448.30 359.39V363.93M424.30 359.39V363.93"/><path d="M435.80 365.80H455.80M455.80 363.53V368.08M435.80 363.53V368.08"/><path d="M557.70 374.92H572.90M572.90 372.65V377.20M557.70 372.65V377.20"/><path d="M503.30 379.07H551.30M551.30 376.80V381.34M503.30 376.80V381.34"/><path d="M532.20 383.21H572.20M572.20 380.94V385.49M532.20 380.94V385.49"/><path d="M549.90 387.36H565.90M565.90 385.09V389.63M549.90 385.09V389.63"/><path d="M409.50 396.48H442.10M442.10 394.21V398.75M409.50 394.21V398.75"/><path d="M424.30 400.63H430.30M430.30 398.35V402.90M424.30 398.35V402.90"/><path d="M392.30 404.77H402.30M402.30 402.50V407.04"/><path d="M392.30 408.92H396.30M396.30 406.64V411.19"/><path d="M424.00 418.04H434.60M434.60 415.76V420.31M424.00 415.76V420.31"/><path d="M427.30 422.18H437.30M437.30 419.91V424.45M427.30 419.91V424.45"/><path d="M395.60 426.33H413.40M413.40 424.06V428.60M395.60 424.06V428.60"/><path d="M401.90 430.47H410.70M410.70 428.20V432.75M401.90 428.20V432.75"/><path d="M433.00 439.59H451.00M451.00 437.32V441.87M433.00 437.32V441.87"/><path d="M438.20 443.74H453.40M453.40 441.47V446.01M438.20 441.47V446.01"/><path d="M405.30 447.88H433.30M433.30 445.61V450.16M405.30 445.61V450.16"/><path d="M418.80 452.03H434.80M434.80 449.76V454.30M418.80 449.76V454.30"/><path d="M419.30 461.15H449.30M449.30 458.88V463.42M419.30 458.88V463.42"/><path d="M421.30 465.30H451.30M451.30 463.02V467.57M421.30 463.02V467.57"/><path d="M394.30 469.44H406.30M406.30 467.17V471.71M394.30 467.17V471.71"/><path d="M404.30 473.59H412.30M412.30 471.31V475.86M404.30 471.31V475.86"/><path d="M423.20 482.71H467.20M467.20 480.43V484.98M423.20 480.43V484.98"/><path d="M424.20 486.85H446.00M446.00 484.58V489.12M424.20 484.58V489.12"/><path d="M414.90 491.00H423.50M423.50 488.73V493.27M414.90 488.73V493.27"/><path d="M426.10 495.14H448.50M448.50 492.87V497.42M426.10 492.87V497.42"/><path d="M540.30 504.26H560.30M560.30 501.99V506.54M540.30 501.99V506.54"/><path d="M496.30 508.41H518.30M518.30 506.14V510.68M496.30 506.14V510.68"/><path d="M538.60 512.55H550.00M550.00 510.28V514.83M538.60 510.28V514.83"/><path d="M482.30 516.70H504.30M504.30 514.43V518.97M482.30 514.43V518.97"/><path d="M492.10 525.82H550.50M550.50 523.55V528.09M492.10 523.55V528.09"/><path d="M459.70 529.97H480.30M480.30 527.69V532.24M459.70 527.69V532.24"/><path d="M392.30 534.11H394.30M394.30 531.84V536.38"/><path d="M437.50 547.38H458.70M458.70 545.10V549.65M437.50 545.10V549.65"/><path d="M443.40 551.52H467.20M467.20 549.25V553.80M443.40 549.25V553.80"/><path d="M418.50 555.67H428.10M428.10 553.39V557.94M418.50 553.39V557.94"/><path d="M415.00 559.81H425.60M425.60 557.54V562.09M415.00 557.54V562.09"/><path d="M465.80 568.93H492.00M492.00 566.66V571.21M465.80 566.66V571.21"/><path d="M465.80 573.08H488.80M488.80 570.81V575.35M465.80 570.81V575.35"/><path d="M453.60 577.22H479.40M479.40 574.95V579.50M453.60 574.95V579.50"/><path d="M441.30 581.37H466.90M466.90 579.10V583.64M441.30 579.10V583.64"/><path d="M458.80 590.49H472.80M472.80 588.22V592.76M458.80 588.22V592.76"/><path d="M458.70 594.64H479.90M479.90 592.36V596.91M458.70 592.36V596.91"/><path d="M400.90 598.78H425.70M425.70 596.51V601.05M400.90 596.51V601.05"/><path d="M408.70 602.93H428.70M428.70 600.65V605.20M408.70 600.65V605.20"/><path d="M416.00 612.05H446.00M446.00 609.77V614.32M416.00 609.77V614.32"/><path d="M429.20 616.19H447.00M447.00 613.92V618.47M429.20 613.92V618.47"/><path d="M431.80 620.34H442.80M442.80 618.06V622.61M431.80 618.06V622.61"/><path d="M427.20 624.48H440.60M440.60 622.21V626.76M427.20 622.21V626.76"/><path d="M451.20 633.60H456.20M456.20 631.33V635.88M451.20 631.33V635.88"/><path d="M457.90 637.75H467.90M467.90 635.48V640.02M457.90 635.48V640.02"/><path d="M434.00 641.89H444.60M444.60 639.62V644.17M434.00 639.62V644.17"/><path d="M440.00 646.04H448.60M448.60 643.77V648.31M440.00 643.77V648.31"/></g>
<text x="64.6" y="17.86" text-anchor="end" class="lab">VEGF</text><text x="64.6" y="38.77" text-anchor="end" class="lab">TNF-α</text><text x="64.6" y="59.68" text-anchor="end" class="lab">TIMP-1</text><text x="64.6" y="80.60" text-anchor="end" class="lab">TECK</text><text x="64.6" y="101.51" text-anchor="end" class="lab">TARC</text><path d="M223.00 83.90V92.10M219.45 85.95L226.55 90.05M226.55 85.95L219.45 90.05" class="star"/><path d="M223.00 94.90V103.10M219.45 96.95L226.55 101.05M226.55 96.95L219.45 101.05" class="star"/><text x="64.6" y="122.42" text-anchor="end" class="lab">SCF</text><text x="64.6" y="143.33" text-anchor="end" class="lab">RANTES</text><text x="64.6" y="164.25" text-anchor="end" class="lab">MIP-3α</text><text x="64.6" y="185.16" text-anchor="end" class="lab">MIP-1α</text><path d="M129.00 169.90V178.10M125.45 171.95L132.55 176.05M132.55 171.95L125.45 176.05" class="star"/><text x="64.6" y="206.07" text-anchor="end" class="lab">MIG</text><text x="64.6" y="226.99" text-anchor="end" class="lab">Leptin</text><text x="64.6" y="247.90" text-anchor="end" class="lab">IL-17</text><text x="64.6" y="268.81" text-anchor="end" class="lab">IL-13</text><path d="M194.40 258.90V267.10M190.85 260.95L197.95 265.05M197.95 260.95L190.85 265.05" class="star"/><text x="64.6" y="289.72" text-anchor="end" class="lab">IL-12p70</text><path d="M293.40 274.90V283.10M289.85 276.95L296.95 281.05M296.95 276.95L289.85 281.05" class="star"/><path d="M262.00 279.90V288.10M258.45 281.95L265.55 286.05M265.55 281.95L258.45 286.05" class="star"/><text x="64.6" y="310.64" text-anchor="end" class="lab">IL-9</text><path d="M181.30 295.90V304.10M177.75 297.95L184.85 302.05M184.85 297.95L177.75 302.05" class="star"/><path d="M194.40 299.90V308.10M190.85 301.95L197.95 306.05M197.95 301.95L190.85 306.05" class="star"/><text x="64.6" y="331.55" text-anchor="end" class="lab">IL-6</text><path d="M96.40 316.90V325.10M92.85 318.95L99.95 323.05M99.95 318.95L92.85 323.05" class="star"/><text x="64.6" y="352.46" text-anchor="end" class="lab">IL-5</text><path d="M99.60 336.20V344.40M96.05 338.25L103.15 342.35M103.15 338.25L96.05 342.35" class="star"/><path d="M107.40 342.60V350.80M103.85 344.65L110.95 348.75M110.95 344.65L103.85 348.75" class="star"/><text x="64.6" y="373.38" text-anchor="end" class="lab">IL-3 Rb</text><path d="M270.20 361.90V370.10M266.65 363.95L273.75 368.05M273.75 363.95L266.65 368.05" class="star"/><text x="64.6" y="394.29" text-anchor="end" class="lab">IL-3</text><text x="64.6" y="415.20" text-anchor="end" class="lab">IL-2</text><text x="64.6" y="436.11" text-anchor="end" class="lab">IL-1beta</text><text x="64.6" y="457.03" text-anchor="end" class="lab">IGFBP-5</text><text x="64.6" y="477.94" text-anchor="end" class="lab">IFN-γ</text><text x="64.6" y="498.85" text-anchor="end" class="lab">GM-CSF</text><path d="M91.30 483.40V491.60M87.75 485.45L94.85 489.55M94.85 485.45L87.75 489.55" class="star"/><text x="64.6" y="519.77" text-anchor="end" class="lab">GCSF</text><path d="M124.00 502.90V511.10M120.45 504.95L127.55 509.05M127.55 504.95L120.45 509.05" class="star"/><path d="M149.20 509.90V518.10M145.65 511.95L152.75 516.05M152.75 511.95L145.65 516.05" class="star"/><text x="64.6" y="540.68" text-anchor="end" class="lab">Fractalkine</text><path d="M244.00 529.90V538.10M240.45 531.95L247.55 536.05M247.55 531.95L240.45 536.05" class="star"/><text x="64.6" y="561.59" text-anchor="end" class="lab">Fas ligand</text><path d="M197.50 550.90V559.10M193.95 552.95L201.05 557.05M201.05 552.95L193.95 557.05" class="star"/><text x="64.6" y="582.50" text-anchor="end" class="lab">Eotaxin</text><text x="64.6" y="603.42" text-anchor="end" class="lab">CRG-2</text><text x="64.6" y="624.33" text-anchor="end" class="lab">CD40</text><text x="64.6" y="645.24" text-anchor="end" class="lab">CD30L</text><text x="76.00" y="670.2" text-anchor="middle" class="tick">0</text><text x="190.40" y="670.2" text-anchor="middle" class="tick">100000</text><text x="305.00" y="670.2" text-anchor="middle" class="tick">200000</text><path d="M76.00 3.20V655.50M72.00 3.20H76.00M72.00 24.11H76.00M72.00 45.03H76.00M72.00 65.94H76.00M72.00 86.85H76.00M72.00 107.76H76.00M72.00 128.68H76.00M72.00 149.59H76.00M72.00 170.50H76.00M72.00 191.42H76.00M72.00 212.33H76.00M72.00 233.24H76.00M72.00 254.15H76.00M72.00 275.07H76.00M72.00 295.98H76.00M72.00 316.89H76.00M72.00 337.81H76.00M72.00 358.72H76.00M72.00 379.63H76.00M72.00 400.55H76.00M72.00 421.46H76.00M72.00 442.37H76.00M72.00 463.28H76.00M72.00 484.20H76.00M72.00 505.11H76.00M72.00 526.02H76.00M72.00 546.94H76.00M72.00 567.85H76.00M72.00 588.76H76.00M72.00 609.67H76.00M72.00 630.59H76.00M72.00 651.50H306.00M190.40 651.50V655.50M305.00 651.50V655.50" class="ax"/><text x="381" y="18.88" text-anchor="end" class="lab">Axl</text><path d="M431.40 3.90V12.10M427.85 5.95L434.95 10.05M434.95 5.95L427.85 10.05" class="star"/><path d="M431.40 11.90V20.10M427.85 13.95L434.95 18.05M434.95 13.95L427.85 18.05" class="star"/><text x="381" y="40.44" text-anchor="end" class="lab">CD30T</text><path d="M436.00 27.90V36.10M432.45 29.95L439.55 34.05M439.55 29.95L432.45 34.05" class="star"/><text x="381" y="61.99" text-anchor="end" class="lab">CTACK</text><text x="381" y="83.55" text-anchor="end" class="lab">IL-4</text><path d="M437.80 67.40V75.60M434.25 69.45L441.35 73.55M441.35 69.45L434.25 73.55" class="star"/><path d="M437.80 76.90V85.10M434.25 78.95L441.35 83.05M441.35 78.95L434.25 83.05" class="star"/><text x="381" y="105.11" text-anchor="end" class="lab">KC</text><path d="M419.80 90.70V98.90M416.25 92.75L423.35 96.85M423.35 92.75L416.25 96.85" class="star"/><path d="M436.20 95.90V104.10M432.65 97.95L439.75 102.05M439.75 97.95L432.65 102.05" class="star"/><text x="381" y="126.66" text-anchor="end" class="lab">LeptinR</text><text x="381" y="148.22" text-anchor="end" class="lab">VCAM-1</text><text x="381" y="169.78" text-anchor="end" class="lab">TPO</text><path d="M446.60 154.40V162.60M443.05 156.45L450.15 160.55M450.15 156.45L443.05 160.55" class="star"/><path d="M434.40 160.90V169.10M430.85 162.95L437.95 167.05M437.95 162.95L430.85 167.05" class="star"/><text x="381" y="191.33" text-anchor="end" class="lab">sTNFRII</text><path d="M497.00 176.90V185.10M493.45 178.95L500.55 183.05M500.55 178.95L493.45 183.05" class="star"/><path d="M464.00 184.90V193.10M460.45 186.95L467.55 191.05M467.55 186.95L460.45 191.05" class="star"/><text x="381" y="212.89" text-anchor="end" class="lab">sTNFRI</text><path d="M584.50 198.40V206.60M580.95 200.45L588.05 204.55M588.05 200.45L580.95 204.55" class="star"/><text x="381" y="234.45" text-anchor="end" class="lab">TCA-3</text><path d="M455.10 221.60V229.80M451.55 223.65L458.65 227.75M458.65 223.65L451.55 227.75" class="star"/><path d="M444.80 225.50V233.70M441.25 227.55L448.35 231.65M448.35 227.55L441.25 231.65" class="star"/><text x="381" y="256.00" text-anchor="end" class="lab">SDF-1α</text><path d="M457.70 241.60V249.80M454.15 243.65L461.25 247.75M461.25 243.65L454.15 247.75" class="star"/><path d="M433.80 246.80V255.00M430.25 248.85L437.35 252.95M437.35 248.85L430.25 252.95" class="star"/><text x="381" y="277.56" text-anchor="end" class="lab">P-Selectin</text><path d="M492.60 259.90V268.10M489.05 261.95L496.15 266.05M496.15 261.95L489.05 266.05" class="star"/><path d="M492.60 266.90V275.10M489.05 268.95L496.15 273.05M496.15 268.95L489.05 273.05" class="star"/><text x="381" y="299.11" text-anchor="end" class="lab">L-Selectin</text><text x="381" y="320.67" text-anchor="end" class="lab">PF-4</text><text x="381" y="342.23" text-anchor="end" class="lab">MIP-3β</text><path d="M442.00 327.20V335.40M438.45 329.25L445.55 333.35M445.55 329.25L438.45 333.35" class="star"/><path d="M448.00 334.30V342.50M444.45 336.35L451.55 340.45M451.55 336.35L444.45 340.45" class="star"/><text x="381" y="363.78" text-anchor="end" class="lab">MIP-2</text><text x="381" y="385.34" text-anchor="end" class="lab">MIP-1γ</text><text x="381" y="406.90" text-anchor="end" class="lab">M-CSF</text><path d="M448.90 392.70V400.90M445.35 394.75L452.45 398.85M452.45 394.75L445.35 398.85" class="star"/><path d="M437.00 397.20V405.40M433.45 399.25L440.55 403.35M440.55 399.25L433.45 403.35" class="star"/><text x="381" y="428.45" text-anchor="end" class="lab">MCP-5</text><path d="M442.80 412.40V420.60M439.25 414.45L446.35 418.55M446.35 414.45L439.25 418.55" class="star"/><path d="M442.80 421.90V430.10M439.25 423.95L446.35 428.05M446.35 423.95L439.25 428.05" class="star"/><text x="381" y="450.01" text-anchor="end" class="lab">MCP-1</text><path d="M459.00 440.90V449.10M455.45 442.95L462.55 447.05M462.55 442.95L455.45 447.05" class="star"/><text x="381" y="471.57" text-anchor="end" class="lab">Lymphocytes</text><path d="M457.20 456.40V464.60M453.65 458.45L460.75 462.55M460.75 458.45L453.65 462.55" class="star"/><path d="M459.00 463.90V472.10M455.45 465.95L462.55 470.05M462.55 465.95L455.45 470.05" class="star"/><text x="381" y="493.12" text-anchor="end" class="lab">L-1α</text><path d="M431.50 485.70V493.90M427.95 487.75L435.05 491.85M435.05 487.75L427.95 491.85" class="star"/><text x="381" y="514.68" text-anchor="end" class="lab">IL-12p40/p70</text><path d="M569.30 500.90V509.10M565.75 502.95L572.85 507.05M572.85 502.95L565.75 507.05" class="star"/><path d="M558.00 508.90V517.10M554.45 510.95L561.55 515.05M561.55 510.95L554.45 515.05" class="star"/><text x="381" y="536.24" text-anchor="end" class="lab">IL-10</text><path d="M556.80 521.40V529.60M553.25 523.45L560.35 527.55M560.35 523.45L553.25 527.55" class="star"/><path d="M485.70 528.90V537.10M482.15 530.95L489.25 535.05M489.25 530.95L482.15 535.05" class="star"/><text x="381" y="557.80" text-anchor="end" class="lab">IGFBP-6</text><path d="M464.70 542.50V550.70M461.15 544.55L468.25 548.65M468.25 544.55L461.15 548.65" class="star"/><path d="M473.60 547.20V555.40M470.05 549.25L477.15 553.35M477.15 549.25L470.05 553.35" class="star"/><text x="381" y="579.35" text-anchor="end" class="lab">IGFBP-3</text><path d="M501.20 564.50V572.70M497.65 566.55L504.75 570.65M504.75 566.55L497.65 570.65" class="star"/><path d="M496.60 569.80V578.00M493.05 571.85L500.15 575.95M500.15 571.85L493.05 575.95" class="star"/><text x="381" y="600.91" text-anchor="end" class="lab">Eotaxin-2</text><path d="M478.60 586.30V594.50M475.05 588.35L482.15 592.45M482.15 588.35L475.05 592.45" class="star"/><path d="M486.20 590.50V598.70M482.65 592.55L489.75 596.65M489.75 592.55L482.65 596.65" class="star"/><text x="381" y="622.47" text-anchor="end" class="lab">CXCL16</text><text x="381" y="644.02" text-anchor="end" class="lab">BLC</text><path d="M475.30 633.20V641.40M471.75 635.25L478.85 639.35M478.85 635.25L471.75 639.35" class="star"/><text x="392.30" y="668.8" text-anchor="middle" class="tick">0</text><text x="486.30" y="668.8" text-anchor="middle" class="tick">500000</text><text x="580.30" y="668.8" text-anchor="middle" class="tick">1000000</text><path d="M392.30 3.90V654.60M388.30 3.90H392.30M388.30 25.46H392.30M388.30 47.01H392.30M388.30 68.57H392.30M388.30 90.13H392.30M388.30 111.68H392.30M388.30 133.24H392.30M388.30 154.80H392.30M388.30 176.35H392.30M388.30 197.91H392.30M388.30 219.47H392.30M388.30 241.02H392.30M388.30 262.58H392.30M388.30 284.14H392.30M388.30 305.69H392.30M388.30 327.25H392.30M388.30 348.81H392.30M388.30 370.36H392.30M388.30 391.92H392.30M388.30 413.48H392.30M388.30 435.03H392.30M388.30 456.59H392.30M388.30 478.15H392.30M388.30 499.70H392.30M388.30 521.26H392.30M388.30 542.82H392.30M388.30 564.37H392.30M388.30 585.93H392.30M388.30 607.49H392.30M388.30 629.04H392.30M388.30 650.60H619.00M486.30 650.60V654.60M580.30 650.60V654.60" class="ax"/>
<rect x="528.3" y="11.10" width="6.8" height="6.6" fill="#8064A2"/><text x="538.4" y="18.90" class="leg">60 min</text><rect x="528.3" y="33.20" width="6.8" height="6.6" fill="#9BBB59"/><text x="538.4" y="41.00" class="leg">30 min</text><rect x="528.3" y="55.30" width="6.8" height="6.6" fill="#C0504D"/><text x="538.4" y="63.10" class="leg">10 min</text><rect x="528.3" y="77.40" width="6.8" height="6.6" fill="#4F81BD"/><text x="538.4" y="85.20" class="leg">Control</text>
<text x="191" y="693.4" text-anchor="middle" class="title">Normalized cytokine expression</text>
<text x="499.5" y="693.4" text-anchor="middle" class="title">Normalized cytokine expression</text>
</svg></body></html>
